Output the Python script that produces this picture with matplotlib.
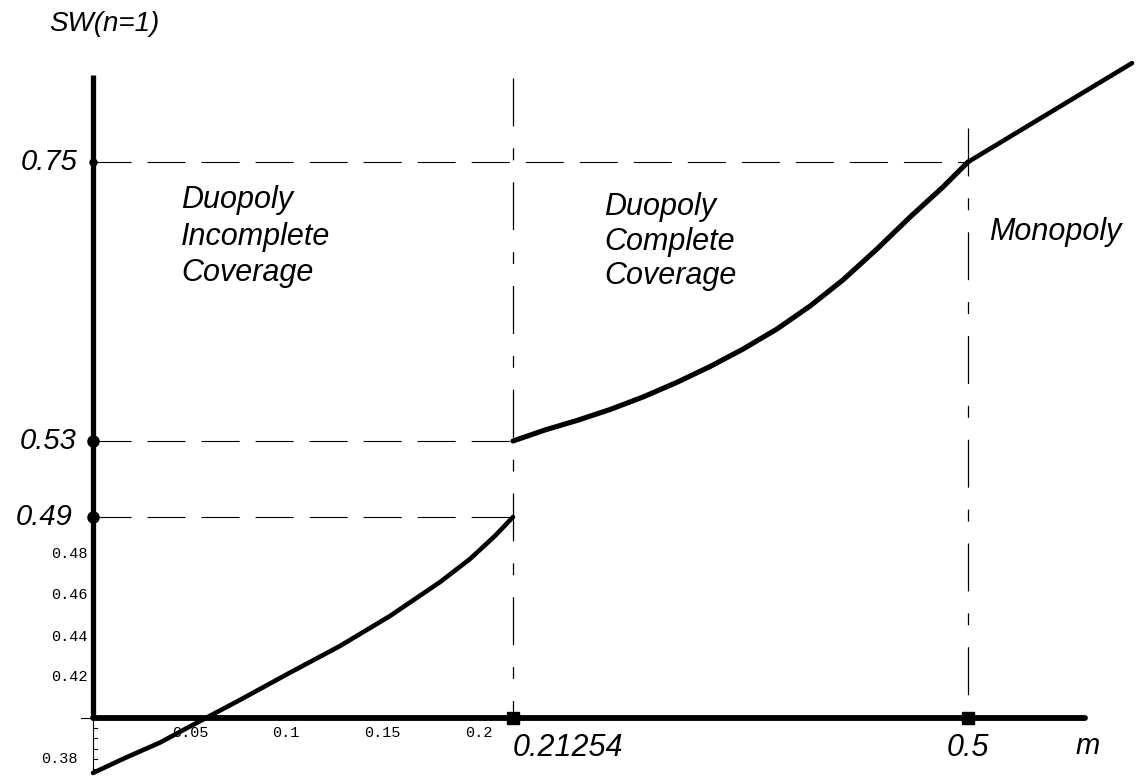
import numpy as np
import matplotlib
matplotlib.use("Agg")
import matplotlib.pyplot as plt

plt.rcParams['lines.scale_dashes'] = False

# ---------------- data ----------------
# Duopoly, incomplete coverage
m_incomplete = [0.0, 0.0165, 0.0345, 0.05, 0.076, 0.1021, 0.1281, 0.1541, 0.1799, 0.1954, 0.2059, 0.21254]
sw_incomplete = [0.3732, 0.3805, 0.388, 0.3959, 0.4088, 0.4222, 0.4355, 0.45, 0.4663, 0.4776, 0.4849, 0.49]
# Duopoly, complete coverage
m_complete = [0.21254, 0.2328, 0.253, 0.2738, 0.2947, 0.3162, 0.337, 0.3579, 0.3793, 0.4002,
              0.421, 0.4425, 0.4634, 0.4842, 0.5]
sw_complete = [0.53, 0.5387, 0.5462, 0.5548, 0.5647, 0.5763, 0.5887, 0.6025, 0.6183, 0.6364,
               0.657, 0.6814, 0.7066, 0.7303, 0.75]
# Monopoly
m_monopoly = [0.5, 0.6036]
sw_monopoly = [0.75, 0.828]

m_threshold = [0.21254, 0.5]
m_threshold_labels = ["0.21254", "0.5"]
sw_marks = [0.75, 0.53, 0.49]
sw_mark_labels = ["0.75", "0.53", "0.49"]
sw_small_ticks = [0.48, 0.46, 0.44, 0.42, 0.38]
sw_small_labels = ["0.48", "0.46", "0.44", "0.42", "0.38"]
m_small_ticks = [0.05, 0.1, 0.15, 0.2]
m_small_labels = ["0.05", "0.1", "0.15", "0.2"]
sw_minor = [0.395, 0.39, 0.385, 0.38, 0.375]
regions = [["Duopoly", "Incomplete", "Coverage"],
           ["Duopoly", "Complete", "Coverage"],
           ["Monopoly"]]

# ---------------- piecewise (sketch) scales ----------------
mx_k = np.array([-1.0, 0.0, 0.05, 0.1, 0.15, 0.2, 0.21254, 0.5, 2.0])
px_k = np.array([93 - 1940, 93, 190, 286, 382, 479, 513, 968, 968 + 1.5 * 1583])
sy_k = np.array([-1.0, 0.38, 0.40, 0.42, 0.44, 0.46, 0.48, 0.49, 0.53, 0.75, 2.0])
py_k = -np.array([759 + 1.38 * 2050, 759, 718, 677, 637, 595, 554, 517, 441, 162, 162 - 1.25 * 1268])

def fx(v):
    return np.interp(v, mx_k, px_k)

def ix(v):
    return np.interp(v, px_k, mx_k)

def fy(v):
    return np.interp(v, sy_k, py_k)

def iy(v):
    return np.interp(v, py_k, sy_k)

W, H = 1136, 780
fig = plt.figure(figsize=(W / 100, H / 100), dpi=100)
ax = fig.add_axes([0, 0, 1, 1])
ax.set_xscale('function', functions=(fx, ix))
ax.set_yscale('function', functions=(fy, iy))
ax.set_xlim(ix(0), ix(W))
ax.set_ylim(iy(-H), iy(0))
ax.axis('off')

def mpx(p):
    return float(ix(p))

def spx(p):
    return float(iy(-p))

dash = (0, (27.4, 11.5))
dashdot = (0, (34.5, 15.8, 8.6, 15.8))

# guide lines
for s in sw_marks:
    xend = 0.5 if s == 0.75 else 0.21254
    ax.plot([0, xend], [s, s], color='black', lw=0.8, linestyle=dash, zorder=1)
ax.plot([0.21254, 0.21254], [spx(78), 0.40], color='black', lw=0.9, linestyle=dashdot, zorder=1)
ax.plot([0.5, 0.5], [spx(128), 0.40], color='black', lw=0.9, linestyle=dashdot, zorder=1)

# axes
ax.plot([0, 0], [0.40, spx(75)], color='black', lw=3.8, solid_capstyle='butt', zorder=3)
ax.plot([0, mpx(1085)], [0.40, 0.40], color='black', lw=4.2, solid_capstyle='round', zorder=3)
ax.plot([0, 0], [0.40, spx(773)], color='black', lw=0.8, zorder=2)
ax.plot([mpx(81), 0], [0.40, 0.40], color='black', lw=0.8, zorder=2)
for s in sw_minor:
    ax.plot([0, mpx(97)], [s, s], color='black', lw=0.8, zorder=2)

# curves
ax.plot(m_incomplete, sw_incomplete, color='black', lw=3.3, solid_capstyle='round',
        solid_joinstyle='round', zorder=4)
ax.plot(m_complete, sw_complete, color='black', lw=3.7, solid_capstyle='round',
        solid_joinstyle='round', zorder=4)
ax.plot(m_monopoly, sw_monopoly, color='black', lw=3.3, solid_capstyle='round', zorder=4)

# dots
ax.plot([0], [0.75], 'o', color='black', ms=5, zorder=5)
ax.plot([0, 0], [0.53, 0.49], 'o', color='black', ms=8, zorder=5)
ax.plot(m_threshold, [0.40, 0.40], 's', color='black', ms=9, zorder=5)

ital = dict(family='Liberation Sans', style='italic')
mono = dict(family='Liberation Mono')
ytr = ax.get_yaxis_transform()
xtr = ax.get_xaxis_transform()

# labels
ax.text(49 / W, 1 - 24 / H, "SW(n=1)", transform=ax.transAxes, fontsize=20,
        ha='left', va='center', **ital)
for s, lab, xr in zip(sw_marks, sw_mark_labels, [78, 77, 73]):
    ax.text(xr / W, s, lab, transform=ytr, fontsize=21, ha='right', va='center', **ital)
for s, lab in zip(sw_small_ticks, sw_small_labels):
    xr = 78 if s < 0.40 else 88
    ax.text(xr / W, s, lab, transform=ytr, fontsize=11, ha='right', va='center', **mono)
for m, lab in zip(m_small_ticks, m_small_labels):
    ax.text(m, 1 - 733 / H, lab, transform=xtr, fontsize=11, ha='center', va='center', **mono)
ax.text(0.21254, 1 - 748 / H, m_threshold_labels[0], transform=xtr, fontsize=22,
        ha='left', va='center', **ital)
ax.text(0.5, 1 - 748 / H, m_threshold_labels[1], transform=xtr, fontsize=22,
        ha='center', va='center', **ital)
ax.text(mpx(1076), 1 - 746 / H, "m", transform=xtr, fontsize=21, ha='left', va='center', **ital)

# region labels
for lines, x0, ys in zip(regions, [181, 604, 989], [[200, 237, 273], [207, 242, 276], [232]]):
    for t, yy in zip(lines, ys):
        ax.text(x0 / W, 1 - yy / H, t, transform=ax.transAxes, fontsize=22,
                ha='left', va='center', **ital)

fig.savefig("out.png", dpi=100)
